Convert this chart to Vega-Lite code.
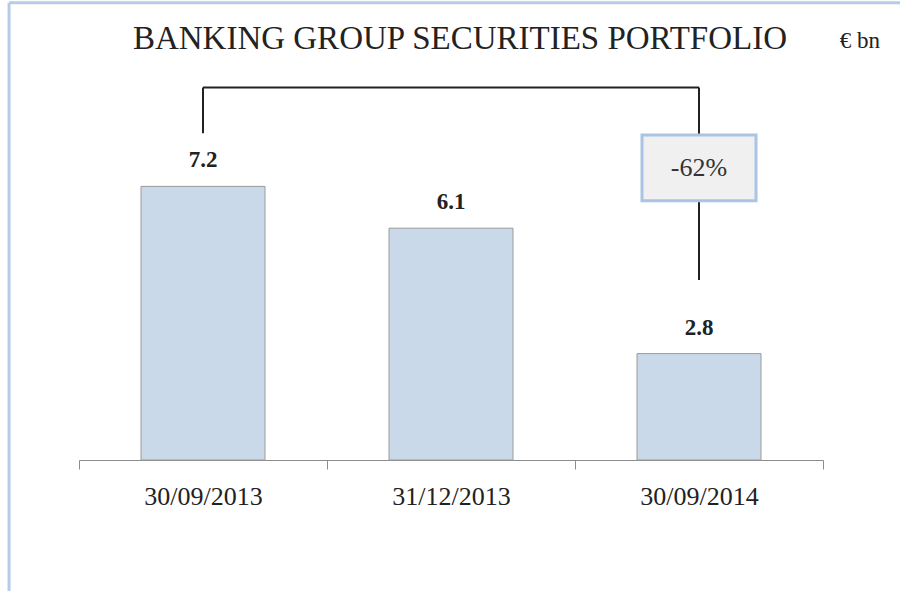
{
  "$schema": "https://vega.github.io/schema/vega-lite/v6.json",
  "width": 744,
  "height": 380,
  "autosize": {"type": "none"},
  "padding": {"left": 79, "top": 80, "right": 77, "bottom": 131},
  "background": "white",
  "config": {
    "view": {"stroke": null},
    "axis": {"grid": false}
  },
  "datasets": {
    "bars": [
      {"date": "30/09/2013", "value": 7.2},
      {"date": "31/12/2013", "value": 6.1},
      {"date": "30/09/2014", "value": 2.8}
    ],
    "bracket": [
      {"from": "30/09/2013", "to": "30/09/2014", "y1": 9.8, "y2": 9.8},
      {"from": "30/09/2013", "to": "30/09/2013", "y1": 9.8, "y2": 8.6},
      {"from": "30/09/2014", "to": "30/09/2014", "y1": 9.8, "y2": 8.53},
      {"from": "30/09/2014", "to": "30/09/2014", "y1": 6.82, "y2": 4.74}
    ],
    "box": [
      {"date": "30/09/2014", "top": 8.55, "bottom": 6.82, "mid": 7.68, "label": "-62%"}
    ],
    "frame": [
      {"part": "left", "x1": -0.094, "x2": -0.094, "y1": -3.45, "y2": 12.03},
      {"part": "top", "x1": -0.094, "x2": 1.11, "y1": 12.03, "y2": 12.03}
    ],
    "titles": [
      {"x": 0.512, "y": 10.82, "label": "BANKING GROUP SECURITIES PORTFOLIO", "size": 33},
      {"x": 1.0497, "y": 10.84, "label": "€ bn", "size": 23}
    ]
  },
  "layer": [
    {
      "layer": [
        {
          "data": {"name": "bars"},
          "mark": {"type": "bar", "width": 124, "fill": "#c9d9ea", "stroke": "#9a9a9a", "strokeWidth": 1},
          "encoding": {
            "x": {
              "field": "date", "type": "nominal", "sort": null,
              "scale": {"type": "band", "paddingInner": 0, "paddingOuter": 0},
              "axis": {
                "title": null,
                "labelAngle": 0,
                "labelFont": "Liberation Serif",
                "labelFontSize": 26,
                "labelColor": "#222222",
                "labelPadding": 14,
                "tickBand": "extent",
                "tickSize": 9,
                "tickColor": "#8c8c8c",
                "domainColor": "#8c8c8c",
                "domainWidth": 1
              }
            },
            "y": {
              "field": "value", "type": "quantitative",
              "scale": {"domain": [0, 10], "nice": false},
              "axis": null
            }
          }
        },
        {
          "data": {"name": "bars"},
          "mark": {"type": "text", "font": "Liberation Serif", "fontSize": 23, "fontWeight": "bold", "color": "#222222", "baseline": "middle", "dy": -26},
          "encoding": {
            "x": {"field": "date", "type": "nominal", "sort": null},
            "y": {"field": "value", "type": "quantitative"},
            "text": {"field": "value", "type": "quantitative", "format": ".1f"}
          }
        },
        {
          "data": {"name": "bracket"},
          "mark": {"type": "rule", "color": "#222222", "strokeWidth": 2},
          "encoding": {
            "x": {"field": "from", "type": "nominal", "sort": null},
            "x2": {"field": "to"},
            "y": {"field": "y1", "type": "quantitative"},
            "y2": {"field": "y2"}
          }
        },
        {
          "data": {"name": "box"},
          "mark": {"type": "bar", "width": 114, "fill": "#f0f0f0", "stroke": "#a9c4e4", "strokeWidth": 3},
          "encoding": {
            "x": {"field": "date", "type": "nominal", "sort": null},
            "y": {"field": "top", "type": "quantitative"},
            "y2": {"field": "bottom"}
          }
        },
        {
          "data": {"name": "box"},
          "mark": {"type": "text", "font": "Liberation Serif", "fontSize": 26, "color": "#333333", "baseline": "middle"},
          "encoding": {
            "x": {"field": "date", "type": "nominal", "sort": null},
            "y": {"field": "mid", "type": "quantitative"},
            "text": {"field": "label"}
          }
        }
      ]
    },
    {
      "layer": [
        {
          "data": {"name": "frame"},
          "mark": {"type": "rule", "color": "#b4cce8", "strokeWidth": 3},
          "encoding": {
            "x": {"field": "x1", "type": "quantitative", "scale": {"domain": [0, 1], "nice": false, "zero": false}, "axis": null},
            "x2": {"field": "x2"},
            "y": {"field": "y1", "type": "quantitative"},
            "y2": {"field": "y2"}
          }
        },
        {
          "data": {"name": "titles"},
          "mark": {"type": "text", "font": "Liberation Serif", "color": "#222222", "baseline": "alphabetic"},
          "encoding": {
            "x": {"field": "x", "type": "quantitative"},
            "y": {"field": "y", "type": "quantitative"},
            "size": {"field": "size", "type": "quantitative", "scale": null},
            "text": {"field": "label"}
          }
        }
      ]
    }
  ],
  "resolve": {"scale": {"x": "independent"}}
}
